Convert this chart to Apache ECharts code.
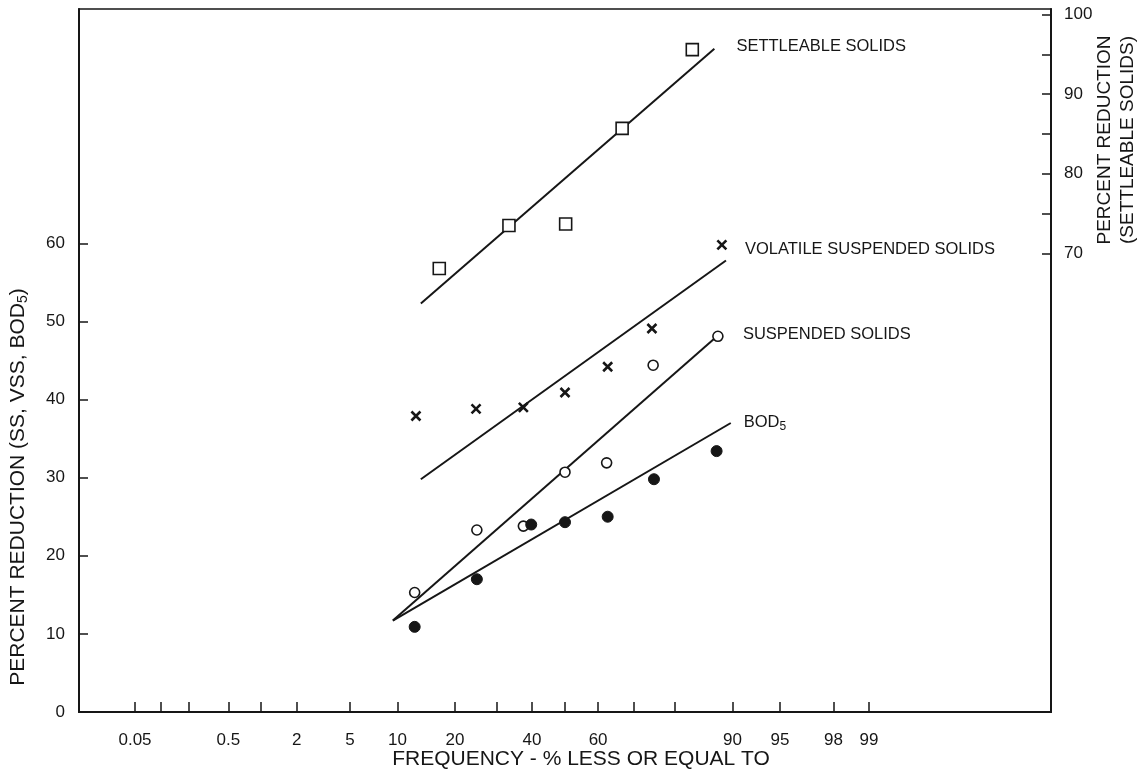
<!DOCTYPE html>
<html>
<head>
<meta charset="utf-8">
<script src="https://cdn.jsdelivr.net/npm/echarts@6/dist/echarts.min.js"></script>
<style>
html,body{margin:0;padding:0;background:#fff;}
#chart{width:1143px;height:776px;}
</style>
</head>
<body>
<div id="chart"></div>
<script>
// ---- data (frequency in %, reduction in %) ----
const settleFreq = [16.8, 33.4, 50.2, 66.9, 83.5];
const settleVal  = [68.1, 73.5, 73.7, 85.7, 95.6];
const vssFreq = [12.7, 24.8, 37.5, 50, 62.8, 74.7, 88.5];
const vssVal  = [37.9, 38.8, 39.0, 40.9, 44.2, 49.1, 59.8];
const ssFreq = [12.5, 25, 37.5, 50, 62.5, 75, 87.9];
const ssVal  = [15.3, 23.3, 23.8, 30.7, 31.9, 44.4, 48.1];
const bodFreq = [12.5, 25, 39.8, 50, 62.8, 75.2, 87.7];
const bodVal  = [10.9, 17.0, 24.0, 24.3, 25.0, 29.8, 33.4];
// fitted lines (end points)
const settleFitFreq = [13.5, 87.35];
const settleFitVal  = [63.7, 95.7];
const vssFitFreq = [13.5, 89.1];
const vssFitVal  = [29.8, 57.8];
const ssFitFreq = [9.39, 87.9];
const ssFitVal  = [11.7, 48.2];
const bodFitFreq = [9.39, 89.77];
const bodFitVal  = [11.7, 37.0];
// axis ticks
const xTickPercents  = [0.05, 0.1, 0.2, 0.5, 1, 2, 5, 10, 20, 30, 40, 50, 60, 70, 80, 90, 95, 98, 99];
const xLabelPercents = [0.05, 0.5, 2, 5, 10, 20, 40, 60, 90, 95, 98, 99];
const xRangePercents = [0.01, 99.99];
const leftTicks  = [0, 10, 20, 30, 40, 50, 60];
const rightTicks = [70, 75, 80, 85, 90, 95, 100];
const rightLabels = [70, 80, 90, 100];

// normal probability scale (inverse normal CDF, Acklam)
function probit(p){
  const a=[-3.969683028665376e+01,2.209460984245205e+02,-2.759285104469687e+02,1.383577518672690e+02,-3.066479806614716e+01,2.506628277459239e+00];
  const b=[-5.447609879822406e+01,1.615858368580409e+02,-1.556989798598866e+02,6.680131188771972e+01,-1.328068155288572e+01];
  const c=[-7.784894002430293e-03,-3.223964580411365e-01,-2.400758277161838e+00,-2.549732539343734e+00,4.374664141464968e+00,2.938163982698783e+00];
  const d=[7.784695709041462e-03,3.224671290700398e-01,2.445134137142996e+00,3.754408661907416e+00];
  const pl=0.02425, ph=1-pl; let q,r;
  if(p<pl){q=Math.sqrt(-2*Math.log(p));return (((((c[0]*q+c[1])*q+c[2])*q+c[3])*q+c[4])*q+c[5])/((((d[0]*q+d[1])*q+d[2])*q+d[3])*q+1);}
  if(p<=ph){q=p-0.5;r=q*q;return (((((a[0]*r+a[1])*r+a[2])*r+a[3])*r+a[4])*r+a[5])*q/(((((b[0]*r+b[1])*r+b[2])*r+b[3])*r+b[4])*r+1);}
  q=Math.sqrt(-2*Math.log(1-p));return -(((((c[0]*q+c[1])*q+c[2])*q+c[3])*q+c[4])*q+c[5])/((((d[0]*q+d[1])*q+d[2])*q+d[3])*q+1);
}
const z = pct => probit(pct/100);
const pts = (fs, vs) => fs.map((f,i)=>[z(f), vs[i]]);

const xTickZ = xTickPercents.map(z);
const xLabelZ = xLabelPercents.map(z);

const INK = '#161616';
const FONT = '"Liberation Sans", Arial, sans-serif';

const chart = echarts.init(document.getElementById('chart'), null, {renderer:'canvas'});

function fitLine(name, fs, vs, yIdx, offset, label){
  return {
    type:'line', name, yAxisIndex:yIdx, data:pts(fs,vs), symbol:'none', silent:true,
    lineStyle:{color:INK, width:2}, z:2,
    endLabel:{show:true, distance:0, offset, formatter: label || name,
      color:INK, fontFamily:FONT, fontSize:16.5, align:'left', verticalAlign:'middle',
      rich:{b:{fontFamily:FONT, fontSize:16.5, color:INK}, s:{fontFamily:FONT, fontSize:12, color:INK, padding:[10,0,0,0]}}}
  };
}

const option = {
  animation:false,
  backgroundColor:'#fff',
  grid:{left:79, right:92, top:9, bottom:64, show:true, borderColor:INK, borderWidth:1.5},
  xAxis:{
    type:'value', min:z(xRangePercents[0]), max:z(xRangePercents[1]),
    axisLine:{show:true, onZero:false, lineStyle:{color:INK, width:2}},
    axisTick:{show:true, inside:true, length:10, customValues:xTickZ, lineStyle:{color:INK, width:1.5}},
    axisLabel:{show:true, customValues:xLabelZ, margin:20, color:INK, fontFamily:FONT, fontSize:17,
      formatter: v => { for(let i=0;i<xLabelZ.length;i++){ if(Math.abs(xLabelZ[i]-v)<1e-6) return String(xLabelPercents[i]); } return ''; }},
    splitLine:{show:false}
  },
  yAxis:[
    {type:'value', position:'left', min:0, max:90,
      axisLine:{show:true, onZero:false, lineStyle:{color:INK, width:2}},
      axisTick:{show:true, inside:true, length:9, customValues:leftTicks, lineStyle:{color:INK, width:1.5}},
      axisLabel:{show:true, customValues:leftTicks, margin:14, color:INK, fontFamily:FONT, fontSize:17},
      splitLine:{show:false}},
    {type:'value', position:'right', min:12.4, max:100.7,
      axisLine:{show:true, onZero:false, lineStyle:{color:INK, width:2}},
      axisTick:{show:true, inside:true, length:9, customValues:rightTicks, lineStyle:{color:INK, width:1.5}},
      axisLabel:{show:true, customValues:rightLabels, margin:13, color:INK, fontFamily:FONT, fontSize:17},
      splitLine:{show:false}}
  ],
  graphic:[
    {type:'text', x:581, y:759, silent:true,
      style:{text:'FREQUENCY - % LESS OR EQUAL TO', font:'21px '+FONT, fill:INK, align:'center', verticalAlign:'middle'}},
    {type:'text', x:18, y:487, rotation:Math.PI/2, silent:true,
      style:{text:'{a|PERCENT REDUCTION (SS, VSS, BOD}{s|5}{a|)}', align:'center', verticalAlign:'middle', fill:INK,
        rich:{a:{fontFamily:FONT, fontSize:21, color:INK}, s:{fontFamily:FONT, fontSize:14, color:INK, padding:[10,0,0,0]}}}},
    {type:'text', x:1116, y:140, rotation:Math.PI/2, silent:true,
      style:{text:'PERCENT REDUCTION\n(SETTLEABLE SOLIDS)', font:'19px '+FONT, lineHeight:23, fill:INK, align:'center', verticalAlign:'middle'}}
  ],
  series:[
    fitLine('SETTLEABLE SOLIDS', settleFitFreq, settleFitVal, 1, [22,-2]),
    fitLine('VOLATILE SUSPENDED SOLIDS', vssFitFreq, vssFitVal, 0, [19,-11]),
    fitLine('SUSPENDED SOLIDS', ssFitFreq, ssFitVal, 0, [25,-1]),
    fitLine('BOD5', bodFitFreq, bodFitVal, 0, [13,-1], '{b|BOD}{s|5}'),
    {type:'scatter', name:'Settleable', yAxisIndex:1, data:pts(settleFreq, settleVal), symbol:'rect', symbolSize:12, z:3,
      itemStyle:{color:'#fff', borderColor:INK, borderWidth:1.6, opacity:1}},
    {type:'scatter', name:'VSS', data:pts(vssFreq, vssVal), symbol:'path://M0,0L10,10M10,0L0,10', symbolSize:9, z:3,
      itemStyle:{color:'rgba(0,0,0,0)', borderColor:INK, borderWidth:2.6, opacity:1}},
    {type:'scatter', name:'SS', data:pts(ssFreq, ssVal), symbol:'circle', symbolSize:10, z:3,
      itemStyle:{color:'#fff', borderColor:INK, borderWidth:1.6, opacity:1}},
    {type:'scatter', name:'BOD', data:pts(bodFreq, bodVal), symbol:'circle', symbolSize:11, z:4,
      itemStyle:{color:INK, borderColor:INK, borderWidth:1, opacity:1}}
  ]
};
chart.setOption(option);
</script>
</body>
</html>
